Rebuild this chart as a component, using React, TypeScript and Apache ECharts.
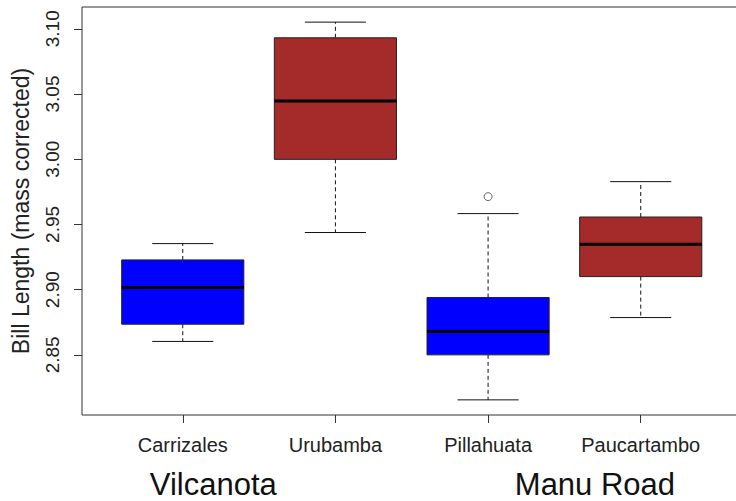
import React, { useEffect, useRef } from "react";
import * as echarts from "echarts";

// ---- data ----
const categories = ["Carrizales", "Urubamba", "Pillahuata", "Paucartambo"];
const whiskerLow = [2.8603, 2.9438, 2.8155, 2.8786];
const q1 = [2.8735, 2.9999, 2.85, 2.91];
const median = [2.9016, 3.0446, 2.8679, 2.9348];
const q3 = [2.9228, 3.0931, 2.894, 2.9557];
const whiskerHigh = [2.9353, 3.1051, 2.9583, 2.9828];
const outlierCategory = [3];
const outlierValue = [2.9713];
const yTicks = [2.85, 2.9, 2.95, 3.0, 3.05, 3.1];
const groupLabels = ["Vilcanota", "Manu Road"];
const groupPositions = [1.2, 3.7];

const fills = ["#0000FF", "#A52A2A", "#0000FF", "#A52A2A"];
const FONT = "'Liberation Sans', Arial, Helvetica, sans-serif";
const X_MIN = 0.34;
const X_MAX = 4.66;
const Y_MIN = 2.8039;
const Y_MAX = 3.1167;

export default function App() {
  const ref = useRef<HTMLDivElement>(null);

  useEffect(() => {
    if (!ref.current) return;
    const chart = echarts.init(ref.current, null, { renderer: "svg" });

    const boxData = categories.map((_, i) => [
      i + 1,
      whiskerLow[i],
      q1[i],
      median[i],
      q3[i],
      whiskerHigh[i],
      i,
    ]);
    const outlierData = outlierCategory.map((c, i) => [c, outlierValue[i]]);

    const renderItem = (params: any, api: any) => {
      const x = api.value(0);
      const idx = api.value(6);
      const pLow = api.coord([x, api.value(1)]);
      const pQ1 = api.coord([x, api.value(2)]);
      const pMed = api.coord([x, api.value(3)]);
      const pQ3 = api.coord([x, api.value(4)]);
      const pHigh = api.coord([x, api.value(5)]);
      const boxW = api.size([0.8, 0])[0];
      const half = boxW / 2;
      const stapleHalf = half / 2;
      const cx = pMed[0];
      return {
        type: "group",
        children: [
          {
            type: "line",
            shape: { x1: cx, y1: pQ3[1], x2: cx, y2: pHigh[1] },
            style: { stroke: "#111", lineWidth: 1, lineDash: [4, 3] },
          },
          {
            type: "line",
            shape: { x1: cx, y1: pQ1[1], x2: cx, y2: pLow[1] },
            style: { stroke: "#111", lineWidth: 1, lineDash: [4, 3] },
          },
          {
            type: "line",
            shape: { x1: cx - stapleHalf, y1: pHigh[1], x2: cx + stapleHalf, y2: pHigh[1] },
            style: { stroke: "#111", lineWidth: 1 },
          },
          {
            type: "line",
            shape: { x1: cx - stapleHalf, y1: pLow[1], x2: cx + stapleHalf, y2: pLow[1] },
            style: { stroke: "#111", lineWidth: 1 },
          },
          {
            type: "rect",
            shape: { x: cx - half, y: pQ3[1], width: boxW, height: pQ1[1] - pQ3[1] },
            style: { fill: fills[idx], stroke: "#222", lineWidth: 1 },
          },
          {
            type: "line",
            shape: { x1: cx - half, y1: pMed[1], x2: cx + half, y2: pMed[1] },
            style: { stroke: "#000", lineWidth: 3 },
          },
        ],
      };
    };

    chart.setOption({
      animation: false,
      backgroundColor: "#fff",
      grid: {
        left: 82,
        top: 7,
        width: 659.5,
        height: 408,
        containLabel: false,
        outerBoundsMode: "none",
        show: true,
        borderColor: "#333",
        borderWidth: 1,
        backgroundColor: "transparent",
      },
      xAxis: {
        type: "value",
        min: X_MIN,
        max: X_MAX,
        axisLine: { show: false },
        splitLine: { show: false },
        axisTick: {
          show: true,
          customValues: [1, 2, 3, 4],
          length: 8,
          lineStyle: { color: "#333" },
        },
        axisLabel: {
          customValues: [1, 2, 3, 4],
          formatter: (v: number) => categories[Math.round(v) - 1] ?? "",
          fontFamily: FONT,
          fontSize: 20,
          color: "#222",
          margin: 20,
        },
      },
      yAxis: {
        type: "value",
        min: Y_MIN,
        max: Y_MAX,
        axisLine: { show: false },
        splitLine: { show: false },
        axisTick: {
          show: true,
          customValues: yTicks,
          length: 8,
          lineStyle: { color: "#333" },
        },
        axisLabel: {
          customValues: yTicks,
          formatter: (v: number) => v.toFixed(2),
          rotate: 90,
          fontFamily: FONT,
          fontSize: 19,
          color: "#222",
          margin: 20,
        },
        name: "Bill Length (mass corrected)",
        nameLocation: "middle",
        nameRotate: 90,
        nameGap: 50,
        nameTextStyle: { fontFamily: FONT, fontSize: 23, color: "#222" },
      },
      series: [
        {
          type: "custom",
          renderItem,
          data: boxData,
          encode: { x: 0, y: [1, 2, 3, 4, 5] },
          z: 2,
        },
        {
          type: "scatter",
          data: outlierData,
          symbol: "circle",
          symbolSize: 8,
          itemStyle: { color: "#fff", borderColor: "#444", borderWidth: 1 },
          z: 3,
        },
      ],
    });

    const graphics = groupLabels.map((label, i) => {
      const p = chart.convertToPixel({ gridIndex: 0 }, [groupPositions[i], Y_MIN]);
      return {
        type: "text",
        x: p[0],
        y: 484,
        style: {
          text: label,
          fontFamily: FONT,
          fontSize: 31,
          fill: "#111",
          textAlign: "center",
          textVerticalAlign: "middle",
        },
      };
    });
    chart.setOption({ graphic: graphics });

    return () => chart.dispose();
  }, []);

  return (
    <div
      ref={ref}
      style={{ position: "fixed", left: 0, top: 0, width: 736, height: 501, background: "#fff" }}
    />
  );
}
